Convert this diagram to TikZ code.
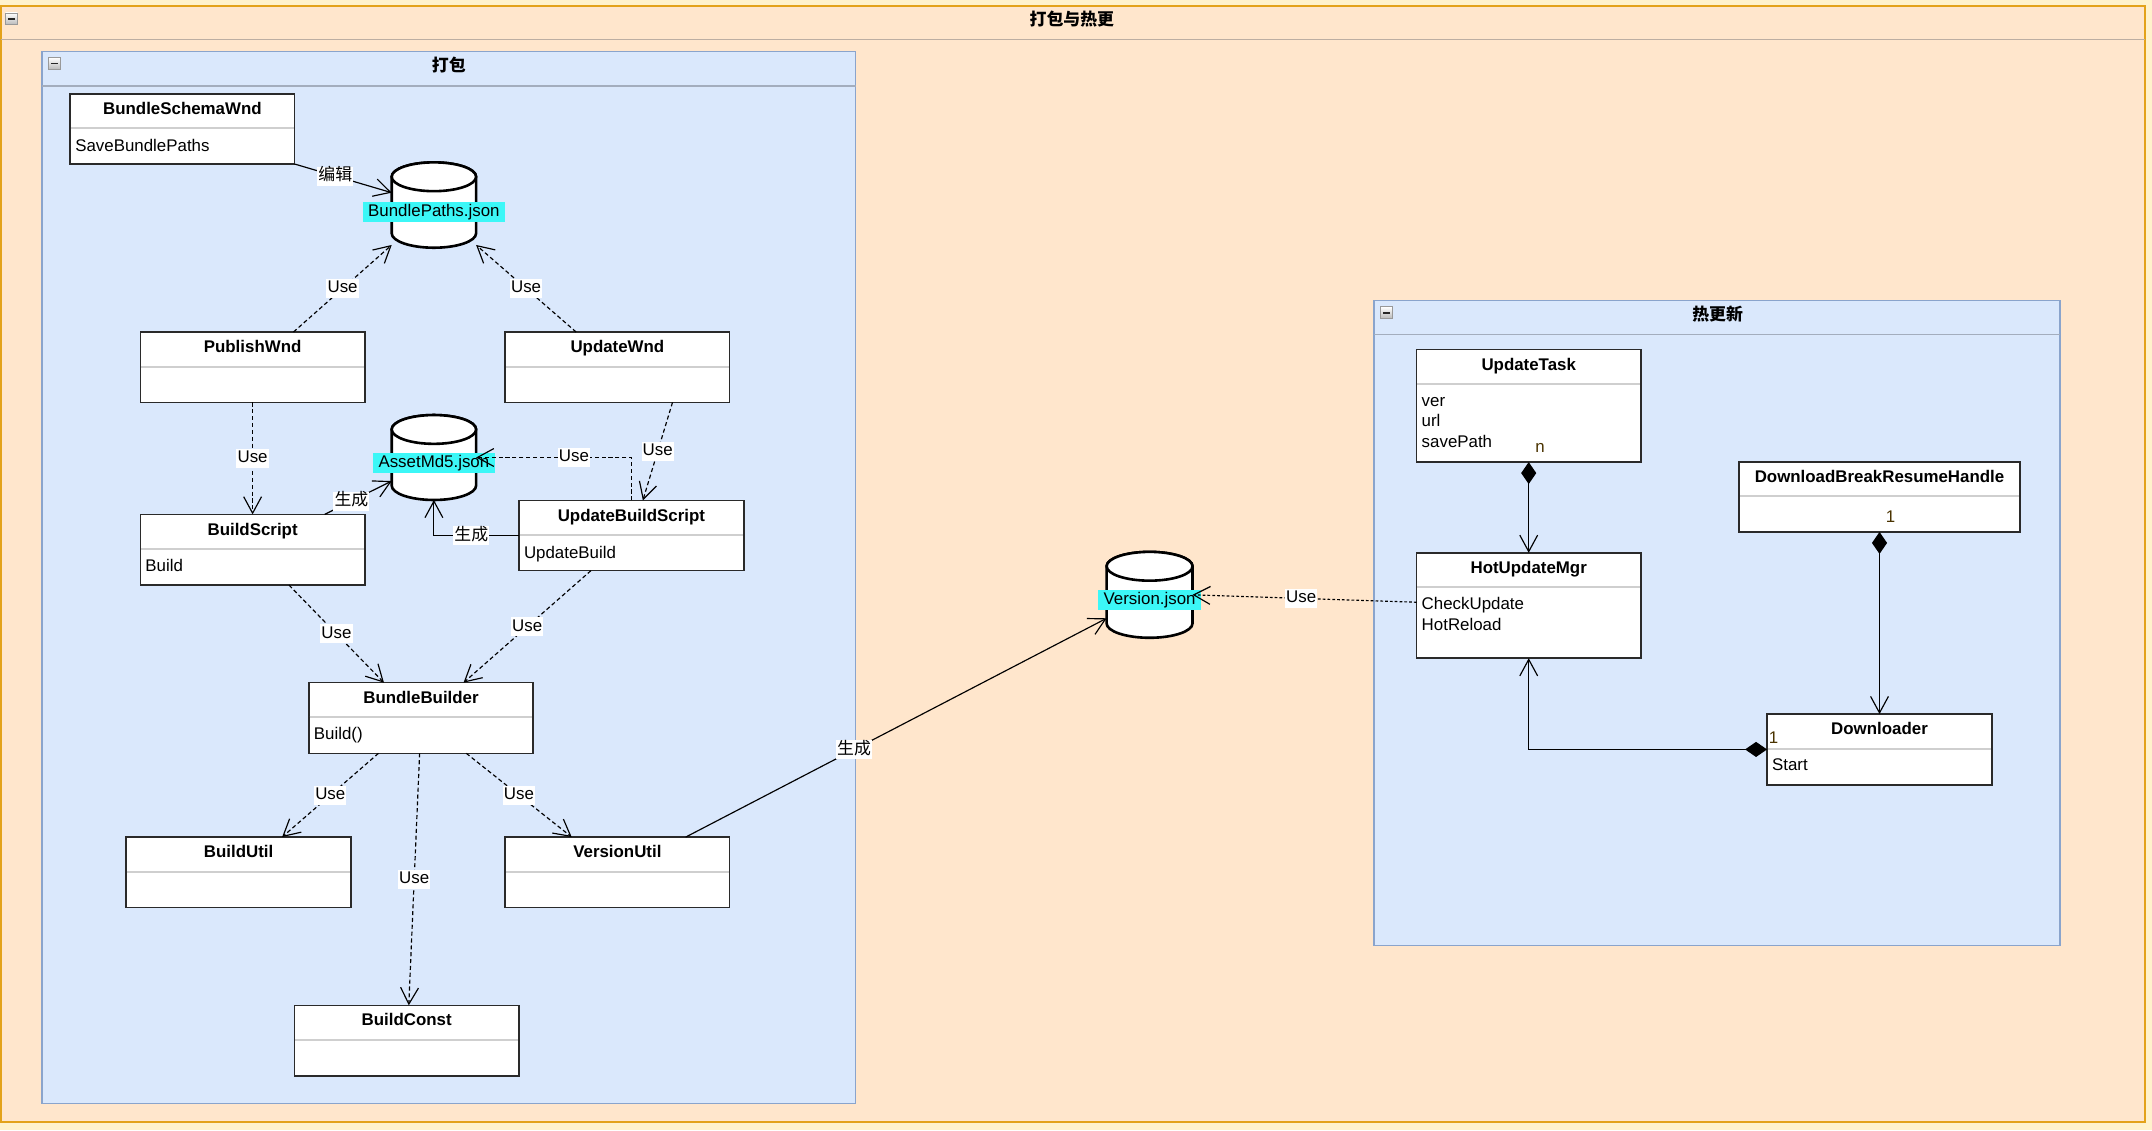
\documentclass[tikz,border=0pt]{standalone}
\usepackage{fontspec}
\setmainfont{Liberation Sans}
\newfontfamily\cjk{Noto Sans CJK SC}
\usetikzlibrary{arrows.meta,calc}
\definecolor{bgyel}{HTML}{FFF2CC}
\definecolor{outfill}{HTML}{FFE6CC}
\definecolor{outdraw}{HTML}{E3A21A}
\definecolor{outdiv}{HTML}{BCAEA2}
\definecolor{grpfill}{HTML}{DAE8FC}
\definecolor{grpdraw}{HTML}{8AA4CC}
\definecolor{grpdiv}{HTML}{A3ADBD}
\definecolor{clsdraw}{HTML}{2A2A2A}
\definecolor{clsdiv}{HTML}{CFCFCF}
\definecolor{jsonbg}{HTML}{3CF7F7}
\definecolor{mult}{HTML}{4A3300}

\newcommand{\umlcls}[6]{%
  \node[clsbox, minimum width=#4pt, minimum height=#5pt, anchor=north west] (#1) at (#2,#3) {};
  \draw[clsline] ([xshift=0.6pt,yshift=-25.2pt]#1.north west) -- ([xshift=-0.6pt,yshift=-25.2pt]#1.north east);
  \node[clsname] (#1-name) at ([yshift=-11.8pt]#1.north) {#6};
}
\newcommand{\dbcyl}[6]{%
  \node[inner sep=0pt, outer sep=0pt, minimum width=#4pt, minimum height=#5pt] (#1) at (#2,#3) {};
  \filldraw[cylst] ($(#1.north west)+(0,10.5)$) -- ($(#1.south west)+(0,-10.5)$)
    arc[start angle=180, end angle=360, x radius=#6pt, y radius=10.5pt]
    -- ($(#1.north east)+(0,10.5)$)
    arc[start angle=0, end angle=180, x radius=#6pt, y radius=10.5pt] -- cycle;
  \draw[cylst] ($(#1.north)+(0,10.5)$) ellipse[x radius=#6pt, y radius=10.5pt];
}

\begin{document}
\begin{tikzpicture}[x=1pt,y=-1pt,
  txt/.style={font=\fontsize{12.3}{14}\selectfont, inner sep=0pt, text height=9pt, text depth=2.5pt},
  clsbox/.style={draw=clsdraw, fill=white, line width=1.2pt, inner sep=0pt, outer sep=0pt},
  clsline/.style={draw=clsdiv, line width=1.4pt},
  clsname/.style={txt, font=\fontsize{12.3}{14}\selectfont\bfseries},
  clsattr/.style={txt, anchor=west},
  mlbl/.style={txt, text=mult},
  lbl/.style={txt, fill=white, inner xsep=0.8pt, inner ysep=1.2pt},
  cjklbl/.style={lbl, font=\cjk\fontsize{12.3}{14}\selectfont},
  jsonlbl/.style={txt, fill=jsonbg, inner xsep=4pt, inner ysep=1.5pt},
  grptitle/.style={txt, font=\cjk\bfseries\fontsize{12.3}{14}\selectfont},
  outerbox/.style={draw=outdraw, fill=outfill, line width=1.5pt, inner sep=0pt, outer sep=0pt},
  grpbox/.style={draw=grpdraw, fill=grpfill, line width=1pt, inner sep=0pt, outer sep=0pt},
  cylst/.style={draw=black, fill=white, line width=1.9pt},
  icon/.style={draw=gray!80, line width=0.6pt, top color=white, bottom color=gray!55, minimum size=8.5pt, inner sep=0pt,
    path picture={\draw[line width=1.3pt, black!85] ([xshift=-2.6pt]path picture bounding box.center) -- ([xshift=2.6pt]path picture bounding box.center);}},
  conn/.style={draw=black, line width=0.85pt},
  usearr/.style={conn, dash pattern=on 3pt off 2pt, -{Straight Barb[length=12pt,width=13pt]}},
  genarr/.style={conn, -{Straight Barb[length=12pt,width=13pt]}},
  comp/.style={conn, {Diamond[length=16pt,width=11pt]}-{Straight Barb[length=12pt,width=13pt]}}
]
\useasboundingbox (0,0) rectangle (1568,823.35);
\fill[bgyel] (0,0) rectangle (1568,823.35);

% outer frame
\node[outerbox, minimum width=1562.2pt, minimum height=812.9pt, anchor=north west] (frame) at (0.8,4.4) {};
\draw[outdiv, line width=1pt] ([yshift=-24.3pt]frame.north west) -- ([yshift=-24.3pt]frame.north east);
\node[grptitle] (frame-t) at (781,15.5) {打包与热更};
\node[icon] (frame-ic) at (8.4,13.7) {};

% group 打包
\node[grpbox, minimum width=592.8pt, minimum height=766.3pt, anchor=north west] (pack) at (30.7,37.7) {};
\draw[grpdiv, line width=1pt] ([yshift=-25pt]pack.north west) -- ([yshift=-25pt]pack.north east);
\node[grptitle] (pack-t) at (327,49) {打包};
\node[icon] (pack-ic) at (39.6,46.3) {};

% group 热更新
\node[grpbox, minimum width=500pt, minimum height=470.1pt, anchor=north west] (hot) at (1001,218.9) {};
\draw[grpdiv, line width=1pt] ([yshift=-24.9pt]hot.north west) -- ([yshift=-24.9pt]hot.north east);
\node[grptitle] (hot-t) at (1251.5,230) {热更新};
\node[icon] (hot-ic) at (1010.2,227.8) {};

% classes
\umlcls{bsw}{51.2}{68.3}{163.4}{51.2}{BundleSchemaWnd}
\node[clsattr] (bsw-a1) at ([xshift=3.5pt,yshift=-38.5pt]bsw.north west) {SaveBundlePaths};
\umlcls{pw}{102.3}{241.9}{163.5}{51.3}{PublishWnd}
\umlcls{uw}{368.1}{241.9}{163.5}{51.3}{UpdateWnd}
\umlcls{bs}{102.3}{374.8}{163.5}{51.5}{BuildScript}
\node[clsattr] (bs-a1) at ([xshift=3.5pt,yshift=-38.5pt]bs.north west) {Build};
\umlcls{ubs}{378.1}{364.6}{163.9}{51.2}{UpdateBuildScript}
\node[clsattr] (ubs-a1) at ([xshift=3.5pt,yshift=-38.8pt]ubs.north west) {UpdateBuild};
\umlcls{bb}{225}{497.4}{163.5}{51.5}{BundleBuilder}
\node[clsattr] (bb-a1) at ([xshift=3.5pt,yshift=-38.5pt]bb.north west) {Build()};
\umlcls{bu}{91.9}{609.9}{163.9}{51.2}{BuildUtil}
\umlcls{vu}{368.1}{609.9}{163.5}{51.2}{VersionUtil}
\umlcls{bc}{214.6}{732.5}{163.5}{51.3}{BuildConst}
\umlcls{ut}{1032.2}{254.6}{163.3}{82.1}{UpdateTask}
\node[clsattr] (ut-a1) at ([xshift=3.5pt,yshift=-38pt]ut.north west) {ver};
\node[clsattr] (ut-a2) at ([xshift=3.5pt,yshift=-53pt]ut.north west) {url};
\node[clsattr] (ut-a3) at ([xshift=3.5pt,yshift=-68pt]ut.north west) {savePath};
\umlcls{hum}{1032.2}{402.8}{163.3}{76.8}{HotUpdateMgr}
\node[clsattr] (hum-a1) at ([xshift=3.5pt,yshift=-38.3pt]hum.north west) {CheckUpdate};
\node[clsattr] (hum-a2) at ([xshift=3.5pt,yshift=-53.2pt]hum.north west) {HotReload};
\umlcls{dbrh}{1267.2}{336.4}{204.5}{51.2}{DownloadBreakResumeHandle}
\umlcls{dl}{1287.5}{520.3}{163.9}{51.5}{Downloader}
\node[clsattr] (dl-a1) at ([xshift=3.5pt,yshift=-38pt]dl.north west) {Start};

% databases
\dbcyl{bp}{316.15}{149.4}{61.5}{62.2}{30.75}
\node[jsonlbl] (bp-l) at ([yshift=-4.8pt]bp.center) {BundlePaths.json};
\dbcyl{am}{316.15}{333.35}{61.5}{61.9}{30.75}
\node[jsonlbl] (am-l) at ([yshift=-4.3pt]am.center) {AssetMd5.json};
\dbcyl{vj}{837.6}{433.4}{62.6}{62.6}{31.3}
\node[jsonlbl] (vj-l) at ([yshift=-3.8pt]vj.center) {Version.json};

% connectors
\draw[genarr] (bsw.south east) -- node[cjklbl, pos=0.42] (c1) {编辑} ([yshift=9pt]bp.west);
\draw[usearr] ([xshift=29.8pt]pw.north) -- node[lbl] (c2) {Use} ([yshift=2pt]bp.south west);
\draw[usearr] ([xshift=-30.1pt]uw.north) -- node[lbl] (c3) {Use} ([yshift=2pt]bp.south east);
\draw[usearr] (pw.south) -- node[lbl] (c4) {Use} (bs.north);
\draw[genarr] ([xshift=52.5pt]bs.north) -- node[cjklbl, pos=0.4] (c5) {生成} ([yshift=-17.15pt]am.west);
\draw[genarr] ([yshift=-25.7pt]ubs.north west) -| node[cjklbl, pos=0.28] (c6) {生成} (am.south);
\draw[usearr] (ubs.north) |- node[lbl, pos=0.685] (c7) {Use} (am.east);
\draw[usearr] ([xshift=40.15pt]uw.south) -- node[lbl] (c8) {Use} ([xshift=8.35pt]ubs.north);
\draw[usearr] ([xshift=26.5pt]bs.south) -- node[lbl] (c9) {Use} ([xshift=-27pt]bb.north);
\draw[usearr] ([xshift=-29.5pt]ubs.south) -- node[lbl] (c10) {Use} ([xshift=31pt]bb.north);
\draw[usearr] ([xshift=-31pt]bb.south) -- node[lbl] (c11) {Use} ([xshift=31.7pt]bu.north);
\draw[usearr] ([xshift=33pt]bb.south) -- node[lbl] (c12) {Use} ([xshift=-33.3pt]vu.north);
\draw[usearr] ([xshift=-1pt]bb.south) -- node[lbl] (c13) {Use} ([xshift=1.5pt]bc.north);
\draw[genarr] ([xshift=49.8pt]vu.north) -- node[cjklbl, pos=0.4] (c14) {生成} ([yshift=-17.1pt]vj.west);
\draw[usearr, dash pattern=on 2pt off 1.5pt] ([yshift=2.4pt]hum.west) -- node[lbl, pos=0.515] (c15) {Use} (vj.east);
\draw[comp] (ut.south) -- (hum.north);
\draw[comp] (dbrh.south) -- (dl.north);
\draw[comp] (dl.west) -| (hum.south);

% multiplicities
\node[mlbl] (ut-n) at ([xshift=8.2pt,yshift=10pt]ut.south) {n};
\node[mlbl] (dbrh-1) at ([xshift=8pt,yshift=9.8pt]dbrh.south) {1};
\node[mlbl] (dl-1) at ([xshift=4.8pt,yshift=7.5pt]dl.west) {1};
\end{tikzpicture}
\end{document}
